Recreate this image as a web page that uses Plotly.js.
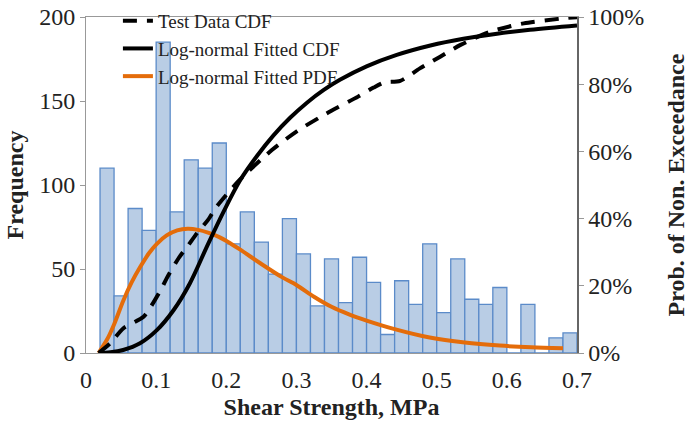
<!DOCTYPE html>
<html><head><meta charset="utf-8">
<script src="https://cdn.plot.ly/plotly-3.0.1.min.js"></script>
<style>html,body{margin:0;padding:0;background:#fff}#c{width:689px;height:424px}</style>
</head><body><div id="c"></div>
<script>
// Histogram bins (centres, MPa) and frequencies
const binCenters = [0.03,0.05,0.07,0.09,0.11,0.13,0.15,0.17,0.19,0.21,0.23,0.25,0.27,0.29,0.31,0.33,0.35,0.37,0.39,0.41,0.43,0.45,0.47,0.49,0.51,0.53,0.55,0.57,0.59,0.61,0.63,0.65,0.67,0.69];
const frequency = [110,34,86,73,185,84,115,110,125,65,84,66,47,80,59,28,56,30,57,42,11,43,29,65,24,56,32,29,39,0,29,0,9,12];

// Test data CDF (dashed)
const testX = [0.018,0.035,0.053,0.082,0.094,0.108,0.115,0.132,0.146,0.158,0.174,0.186,0.219,0.265,0.300,0.343,0.388,0.41,0.425,0.448,0.476,0.505,0.534,0.576,0.624,0.681,0.702];
const testCdf = [0,0.03,0.073,0.108,0.143,0.193,0.222,0.282,0.321,0.356,0.396,0.435,0.515,0.604,0.659,0.713,0.763,0.79,0.805,0.81,0.847,0.882,0.917,0.956,0.981,0.996,1.0];

// Log-normal fitted CDF (solid)
const fitX = [0.018,0.035,0.053,0.077,0.101,0.125,0.148,0.172,0.196,0.22,0.244,0.267,0.291,0.315,0.339,0.362,0.40,0.443,0.491,0.538,0.586,0.633,0.70];
const fitCdf = [0,0.002,0.009,0.029,0.068,0.128,0.207,0.315,0.42,0.515,0.587,0.647,0.70,0.745,0.783,0.813,0.853,0.887,0.915,0.935,0.95,0.962,0.975];

// Log-normal fitted PDF (scaled to frequency)
const pdfX = [0.018,0.03,0.04,0.053,0.065,0.077,0.09,0.101,0.115,0.13,0.145,0.16,0.175,0.19,0.205,0.22,0.25,0.28,0.30,0.325,0.35,0.375,0.40,0.44,0.49,0.54,0.59,0.635,0.68];
const pdfY = [0,8,17,31,42,51,59.5,65,70,73,74,73.3,71.5,69,65.5,61.5,53,45,40.5,33.5,27.5,23,19.3,14.2,9.2,6.2,4.4,3.4,2.8];

const serif = "Liberation Serif, Times New Roman, serif";
const ink = '#222';

const traces = [
  {type:'bar', x:binCenters, y:frequency, width:0.02, showlegend:false,
   marker:{color:'#b9cde5', line:{color:'#5b8bc9', width:1.3}}},
  {type:'scatter', mode:'lines', x:pdfX, y:pdfY, name:'Log-normal Fitted PDF', legendrank:3,
   line:{color:'#e46c0a', width:4, shape:'spline', smoothing:0.8}},
  {type:'scatter', mode:'lines', x:testX, y:testCdf, yaxis:'y2', name:'Test Data CDF', legendrank:1,
   line:{color:'#000', width:4, dash:'14px,10px', shape:'spline', smoothing:0.7}},
  {type:'scatter', mode:'lines', x:fitX, y:fitCdf, yaxis:'y2', name:'Log-normal Fitted CDF', legendrank:2,
   line:{color:'#000', width:4, shape:'spline', smoothing:1}}
];

const layout = {
  width:689, height:424,
  margin:{l:86, r:112, t:17, b:71, autoexpand:false},
  paper_bgcolor:'#fff', plot_bgcolor:'#fff',
  font:{family:serif, size:24, color:ink},
  bargap:0,
  showlegend:true,
  legend:{x:0.065, y:1.045, xanchor:'left', yanchor:'top', bgcolor:'rgba(0,0,0,0)',
          font:{family:serif, size:19, color:ink}, traceorder:'normal',
          tracegroupgap:0},
  xaxis:{range:[0,0.7], dtick:0.1, tick0:0, showgrid:false, zeroline:false,
         showline:true, linecolor:'#999', linewidth:1, mirror:true,
         ticks:'', ticklabelstandoff:5, tickfont:{family:serif, size:24, color:ink},
         title:{text:'<b>Shear Strength, MPa</b>', font:{family:serif, size:24, color:ink}, standoff:6}},
  yaxis:{range:[0,200], dtick:50, showgrid:false, zeroline:false,
         showline:true, linecolor:'#999', linewidth:1,
         ticks:'outside', ticklen:5, tickcolor:'#999',
         tickfont:{family:serif, size:24, color:ink},
         title:{text:'<b>Frequency</b>', font:{family:serif, size:24, color:ink}, standoff:8}},
  yaxis2:{range:[0,1], dtick:0.2, tickformat:'.0%', overlaying:'y', side:'right',
          showgrid:false, zeroline:false, showline:true, linecolor:'#666', linewidth:1.5,
          ticks:'outside', ticklen:5, tickcolor:'#999',
          tickfont:{family:serif, size:24, color:ink},
          title:{text:'<b>Prob. of Non. Exceedance</b>', font:{family:serif, size:24, color:ink}, standoff:24}}
};

Plotly.newPlot('c', traces, layout, {displayModeBar:false, staticPlot:true});
</script></body></html>
